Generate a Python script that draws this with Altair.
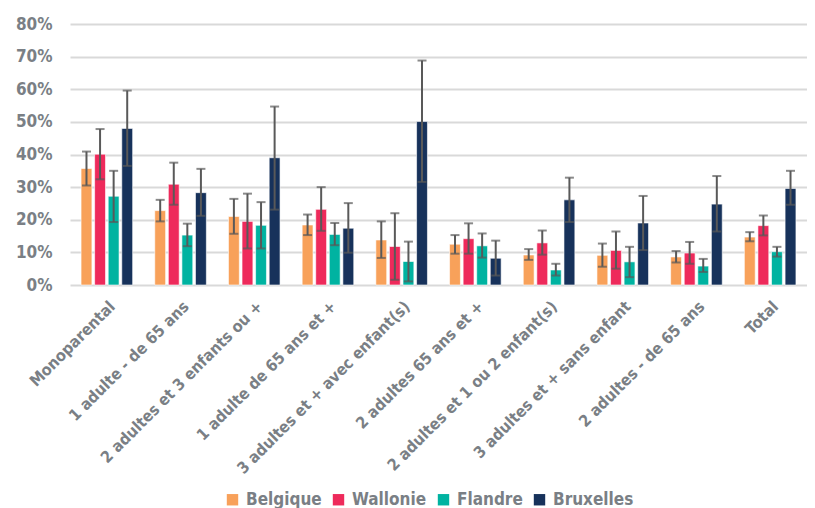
import altair as alt
import pandas as pd

categories = ["Monoparental", "1 adulte - de 65 ans", "2 adultes et 3 enfants ou +",
              "1 adulte de 65 ans et +", "3 adultes et + avec enfant(s)", "2 adultes 65 ans et +",
              "2 adultes et 1 ou 2 enfant(s)", "3 adultes et + sans enfant", "2 adultes - de 65 ans", "Total"]
series = ["Belgique", "Wallonie", "Flandre", "Bruxelles"]
colors = ["#F8A15A", "#EE2A5B", "#00B3A1", "#17325B"]

belgique = [35.7, 22.8, 21.0, 18.4, 13.8, 12.5, 9.2, 9.1, 8.6, 14.7]
belgique_lo = [30.5, 19.5, 15.7, 15.3, 8.3, 9.6, 7.7, 5.6, 6.9, 13.4]
belgique_hi = [40.9, 26.1, 26.4, 21.6, 19.5, 15.3, 11.0, 12.7, 10.4, 16.2]
wallonie = [40.1, 30.9, 19.5, 23.2, 11.8, 14.2, 12.9, 10.6, 9.8, 18.2]
wallonie_lo = [32.4, 24.6, 11.2, 16.6, 1.6, 9.6, 9.3, 5.0, 6.5, 15.2]
wallonie_hi = [47.8, 37.5, 28.0, 30.0, 22.0, 18.9, 16.7, 16.4, 13.2, 21.3]
flandre = [27.2, 15.3, 18.3, 15.5, 7.2, 12.0, 4.6, 7.1, 5.8, 10.2]
flandre_lo = [19.3, 11.9, 11.2, 12.2, 1.1, 8.4, 2.9, 2.4, 4.0, 8.7]
flandre_hi = [35.0, 18.8, 25.4, 19.0, 13.3, 15.8, 6.5, 11.7, 8.0, 11.7]
bruxelles = [48.0, 28.3, 39.0, 17.4, 50.1, 8.2, 26.1, 19.0, 24.8, 29.6]
bruxelles_lo = [36.5, 21.2, 23.1, 9.9, 31.6, 2.9, 19.3, 10.7, 16.4, 24.6]
bruxelles_hi = [59.6, 35.6, 54.7, 25.1, 68.8, 13.6, 32.9, 27.3, 33.4, 35.0]
y_ticks = [0.0, 0.1, 0.2, 0.3, 0.4, 0.5, 0.6, 0.7, 0.8]

vals = {"Belgique": (belgique, belgique_lo, belgique_hi),
        "Wallonie": (wallonie, wallonie_lo, wallonie_hi),
        "Flandre": (flandre, flandre_lo, flandre_hi),
        "Bruxelles": (bruxelles, bruxelles_lo, bruxelles_hi)}

rows = []
for s in series:
    v, lo, hi = vals[s]
    for i, c in enumerate(categories):
        rows.append({"cat": c, "serie": s, "v": v[i] / 100, "lo": lo[i] / 100, "hi": hi[i] / 100})
df = pd.DataFrame(rows)

FONT = "Noto Sans Condensed, DejaVu Sans Condensed, Liberation Sans Narrow, Roboto, sans-serif"
TXT = "#7A7F85"

x = alt.X("cat:N", sort=categories, title=None,
          scale=alt.Scale(paddingInner=0.3, paddingOuter=0.15),
          axis=alt.Axis(labelAngle=-45, labelAlign="right", labelBaseline="top",
                        labelFont=FONT, labelFontSize=16, labelFontWeight="bold",
                        labelColor=TXT, ticks=False, domain=False, labelPadding=13,
                        labelLimit=400))
xo = alt.XOffset("serie:N", sort=series, scale=alt.Scale(paddingInner=0.2))
yaxis = alt.Axis(format=".0%", values=y_ticks, tickCount=20, labelOverlap=False,
                 labelFont=FONT, labelFontSize=17, labelFontWeight="bold",
                 labelColor=TXT, ticks=False, domain=False, labelPadding=18,
                 minExtent=62, maxExtent=62,
                 gridColor="#D9D9D9", gridWidth=2)
yscale = alt.Scale(domain=[0, 0.8])

base = alt.Chart(df)
bars = base.mark_bar(stroke="white", strokeWidth=0.6).encode(
    x=x, xOffset=xo, y=alt.Y("v:Q", title=None, scale=yscale, axis=yaxis),
    color=alt.Color("serie:N", sort=series, scale=alt.Scale(domain=series, range=colors),
                    legend=alt.Legend(title=None, orient="none", direction="horizontal",
                                      legendX=154, legendY=467,
                                      symbolType="square", symbolSize=130, symbolStrokeWidth=0,
                                      labelFont=FONT, labelFontSize=17, labelFontWeight="bold",
                                      labelColor=TXT, columnPadding=8, labelOffset=5)))
rule = base.mark_rule(color="#595959", strokeWidth=2).encode(
    x=x, xOffset=xo, y=alt.Y("lo:Q", title=None, scale=yscale, axis=yaxis), y2="hi:Q")
cap_hi = base.mark_tick(color="#595959", thickness=2, size=9).encode(
    x=x, xOffset=xo, y=alt.Y("hi:Q", title=None, scale=yscale, axis=yaxis))
cap_lo = base.mark_tick(color="#595959", thickness=2, size=9).encode(
    x=x, xOffset=xo, y=alt.Y("lo:Q", title=None, scale=yscale, axis=yaxis))

chart = alt.layer(bars, rule, cap_hi, cap_lo).properties(
    width=737, height=261,
    padding={"top": 7, "left": 0, "right": 0, "bottom": 0},
).configure_view(stroke=None)

chart.save("out.html", embed_options={"renderer": "svg", "actions": False})
